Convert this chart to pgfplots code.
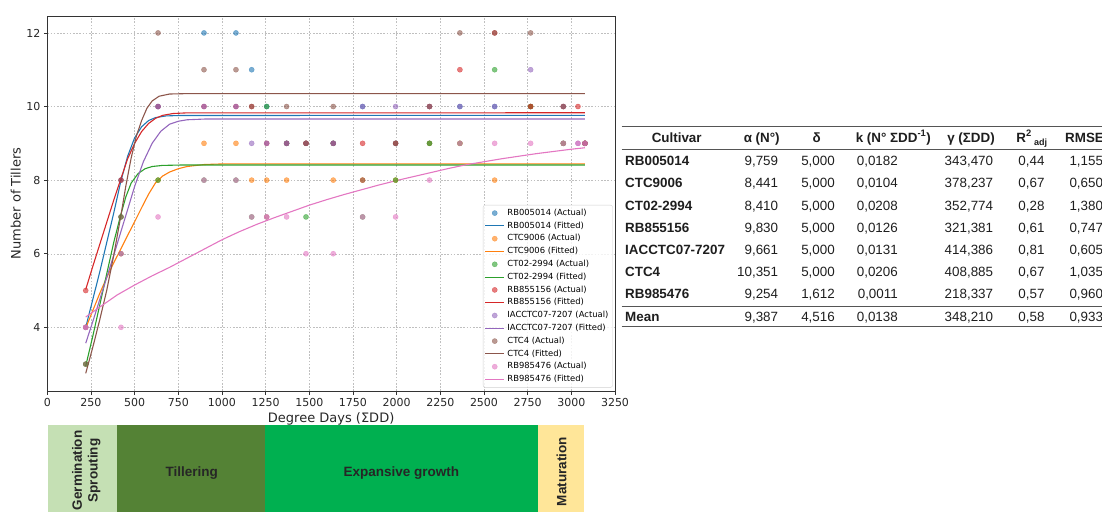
\documentclass[border=0pt]{standalone}
\usepackage{fontspec}
\usepackage{pgfplots}
\pgfplotsset{compat=1.18}
\setmainfont{DejaVu Sans}
\newfontfamily\arial{Liberation Sans}

\definecolor{tabblue}{HTML}{1F77B4}
\definecolor{taborange}{HTML}{FF7F0E}
\definecolor{tabgreen}{HTML}{2CA02C}
\definecolor{tabred}{HTML}{D62728}
\definecolor{tabpurple}{HTML}{9467BD}
\definecolor{tabbrown}{HTML}{8C564B}
\definecolor{tabpink}{HTML}{E377C2}
\definecolor{phgerm}{HTML}{C5E0B4}
\definecolor{phtill}{HTML}{548235}
\definecolor{phexp}{HTML}{00B050}
\definecolor{phmat}{HTML}{FFE699}
\definecolor{rulegray}{HTML}{555555}
\definecolor{tabtext}{HTML}{1E1E1E}

\pgfplotsset{
  actual/.style={only marks, color=#1, mark=*, mark size=2.6pt,
    mark options={fill opacity=0.6, draw opacity=0.6, line width=0.3pt}},
  fitted/.style={no marks, color=#1, line width=1.1pt, line join=round},
}

% one row of the parameter table: y, cultivar, alpha, delta, k, gamma, R2adj, RMSE
\newcommand{\tabrow}[8]{%
  \node[anchor=mid west] at (625pt,#1) {\bfseries #2};
  \node[anchor=mid east] at (778.3pt,#1) {#3};
  \node[anchor=mid east] at (835pt,#1) {#4};
  \node[anchor=mid east] at (898pt,#1) {#5};
  \node[anchor=mid east] at (993.3pt,#1) {#6};
  \node[anchor=mid east] at (1044.7pt,#1) {#7};
  \node[anchor=mid west] at (1069.3pt,#1) {#8};
}

\begin{document}
\begin{tikzpicture}
\useasboundingbox (0,0) rectangle (1102pt,512pt);
\clip (0,0) rectangle (1102pt,512pt);

\begin{axis}[
  at={(47.3pt,121pt)}, anchor=south west,
  scale only axis, width=567.7pt, height=375pt,
  xmin=0, xmax=3250, ymin=2.27, ymax=12.46,
  xtick={0,250,...,3250}, ytick={4,6,8,10,12},
  /pgf/number format/1000 sep={}, scaled ticks=false,
  /pgf/number format/assume math mode=true,
  tick label style={font=\fontsize{11}{13}\selectfont, text=black!85},
  tick align=outside, tick pos=left, major tick length=3.5pt,
  every tick/.style={black!80, line width=0.6pt},
  axis line style={black!80, line width=0.8pt},
  grid=major,
  major grid style={gray!50, dash pattern=on 1.6pt off 1.6pt, line width=0.45pt},
  xlabel={Degree Days (ΣDD)}, ylabel={Number of Tillers},
  label style={font=\fontsize{13}{15}\selectfont, text=black!85},
  xlabel style={at={(axis description cs:0.5,-0.0755)}, anchor=center},
  ylabel style={at={(axis description cs:-0.0555,0.5)}, anchor=center},
  legend image code/.code={\draw[mark repeat=2,mark phase=2,#1]
    plot coordinates {(0pt,0pt)(9.5pt,0pt)(19pt,0pt)};},
  legend cell align=left,
  legend style={at={(0.996,0.496)}, anchor=north east,
    draw=gray!35, rounded corners=2pt, fill=white, fill opacity=0.8, text opacity=1,
    font=\fontsize{8.4}{9.5}\selectfont, inner sep=1.5pt, row sep=0pt,
    nodes={inner xsep=2.65pt, inner ysep=2pt, text height=6.6pt, text depth=2.2pt}},
]

% RB005014
\addplot[actual=tabblue] coordinates {
 (220,4)(422,8)(634,10)(897,12)(1080,12)(1170,11)(1256,10)(1370,9)(1481,9)
 (1637,9)(1805,10)(1994,9)(2188,9)(2362,10)(2561,10)(2767,10)(2954,9)(3078,9)};
\addlegendentry{RB005014 (Actual)}
\addplot[fitted=tabblue] coordinates {
 (220,4.0)(260,4.75)(300,5.5)(340,6.3)(380,7.1)(420,7.95)(460,8.65)(500,9.15)
 (540,9.45)(580,9.62)(620,9.7)(680,9.745)(760,9.757)(3078,9.759)};
\addlegendentry{RB005014 (Fitted)}

% CTC9006
\addplot[actual=taborange] coordinates {
 (220,4)(422,6)(634,8)(897,9)(1080,9)(1170,8)(1256,8)(1370,8)(1481,9)
 (1637,8)(1805,8)(1994,8)(2188,9)(2362,9)(2561,8)(2767,10)(2954,9)(3078,9)};
\addlegendentry{CTC9006 (Actual)}
\addplot[fitted=taborange] coordinates {
 (220,3.98)(260,4.45)(300,4.92)(340,5.35)(380,5.75)(420,6.12)(460,6.5)(500,6.87)
 (540,7.25)(580,7.62)(620,7.93)(660,8.11)(700,8.22)(750,8.31)(800,8.37)(900,8.425)
 (1000,8.44)(3078,8.441)};
\addlegendentry{CTC9006 (Fitted)}

% CT02-2994
\addplot[actual=tabgreen] coordinates {
 (220,3)(422,7)(634,8)(897,8)(1080,8)(1170,7)(1256,10)(1370,9)(1481,7)
 (1637,9)(1805,7)(1994,8)(2188,9)(2362,9)(2561,11)(2767,10)(2954,9)(3078,9)};
\addlegendentry{CT02-2994 (Actual)}
\addplot[fitted=tabgreen] coordinates {
 (220,2.95)(260,3.75)(300,4.6)(340,5.45)(380,6.3)(420,7.05)(450,7.55)(480,7.92)
 (520,8.18)(560,8.31)(600,8.37)(660,8.4)(760,8.41)(3078,8.41)};
\addlegendentry{CT02-2994 (Fitted)}

% RB855156
\addplot[actual=tabred] coordinates {
 (220,5)(422,8)(634,10)(897,10)(1080,10)(1170,10)(1256,9)(1370,9)(1481,9)
 (1637,9)(1805,9)(1994,9)(2188,10)(2362,11)(2561,12)(2767,10)(2954,10)(3038,10)(3078,9)};
\addlegendentry{RB855156 (Actual)}
\addplot[fitted=tabred] coordinates {
 (220,5.03)(260,5.65)(300,6.25)(340,6.85)(380,7.45)(420,8.02)(460,8.58)(500,9.0)
 (540,9.32)(580,9.54)(620,9.68)(660,9.76)(720,9.81)(800,9.828)(3078,9.83)};
\addlegendentry{RB855156 (Fitted)}

% IACCTC07-7207
\addplot[actual=tabpurple] coordinates {
 (220,4)(422,6)(634,10)(897,10)(1080,10)(1170,9)(1256,9)(1370,9)(1481,9)
 (1637,9)(1805,10)(1994,10)(2188,10)(2362,10)(2561,10)(2767,11)(2954,10)(3038,9)(3078,9)};
\addlegendentry{IACCTC07-7207 (Actual)}
\addplot[fitted=tabpurple] coordinates {
 (220,3.57)(260,4.15)(300,4.75)(340,5.35)(380,5.95)(420,6.58)(460,7.2)(500,7.83)
 (550,8.5)(600,9.0)(650,9.33)(700,9.52)(750,9.6)(800,9.64)(900,9.66)(3078,9.661)};
\addlegendentry{IACCTC07-7207 (Fitted)}

% CTC4
\addplot[actual=tabbrown] coordinates {
 (220,3)(422,7)(634,12)(897,11)(1080,11)(1170,10)(1256,7)(1370,10)(1481,9)
 (1637,10)(1805,8)(1994,9)(2188,10)(2362,12)(2561,12)(2767,12)(2954,10)(3078,9)};
\addlegendentry{CTC4 (Actual)}
\addplot[fitted=tabbrown] coordinates {
 (220,2.75)(260,3.45)(300,4.2)(340,5.0)(380,5.95)(420,7.0)(450,7.85)(480,8.6)
 (510,9.2)(540,9.62)(570,9.95)(600,10.15)(640,10.28)(700,10.34)(800,10.351)(3078,10.351)};
\addlegendentry{CTC4 (Fitted)}

% RB985476
\addplot[actual=tabpink] coordinates {
 (220,4)(422,4)(634,7)(897,8)(1080,8)(1170,7)(1256,7)(1370,7)(1481,6)
 (1637,6)(1805,7)(1994,7)(2188,8)(2362,9)(2561,9)(2767,9)(2954,9)(3038,9)(3078,9)};
\addlegendentry{RB985476 (Actual)}
\addplot[fitted=tabpink] coordinates {
 (220,4.28)(300,4.55)(400,4.88)(500,5.15)(600,5.4)(700,5.63)(800,5.88)(900,6.13)
 (1000,6.38)(1100,6.6)(1200,6.8)(1300,6.98)(1400,7.15)(1500,7.32)(1600,7.47)
 (1700,7.61)(1800,7.74)(1900,7.87)(2000,7.99)(2100,8.1)(2200,8.21)(2300,8.32)
 (2400,8.42)(2500,8.5)(2600,8.58)(2700,8.65)(2800,8.72)(2900,8.78)(3000,8.84)(3078,8.88)};
\addlegendentry{RB985476 (Fitted)}
\end{axis}

% crop development phases
\fill[phgerm] (47.8pt,0pt) rectangle (117pt,87pt);
\fill[phtill] (117pt,0pt) rectangle (265pt,87pt);
\fill[phexp]  (265pt,0pt) rectangle (538pt,87pt);
\fill[phmat]  (538pt,0pt) rectangle (584.4pt,87pt);
\begin{scope}[every node/.style={font=\arial\fontsize{13.5}{15.8}\selectfont\bfseries, text=black!85}]
  \node[rotate=90, align=center] at (86.2pt,41.5pt) {Germination\\Sprouting};
  \node at (191.8pt,38.7pt) {Tillering};
  \node at (401.3pt,38.7pt) {Expansive growth};
  \node[rotate=90] at (561.5pt,40.3pt) {Maturation};
\end{scope}

% parameter table
\begin{scope}[every node/.style={inner sep=0pt, font=\arial\fontsize{13.4}{15}\selectfont, text=tabtext}]
  \draw[rulegray, line width=1.5pt] (621.7pt,385.3pt) -- (1102pt,385.3pt);
  \draw[rulegray, line width=0.8pt] (621.7pt,363pt) -- (1102pt,363pt);
  \draw[rulegray, line width=1pt] (621.7pt,205.3pt) -- (1102pt,205.3pt);
  \draw[rulegray, line width=1.5pt] (621.7pt,185.3pt) -- (1102pt,185.3pt);
  \node[anchor=mid] at (676.7pt,372.7pt) {\bfseries Cultivar};
  \node[anchor=mid] at (761.7pt,372.7pt) {\bfseries α (N°)};
  \node[anchor=mid] at (816.7pt,372.7pt) {\bfseries δ};
  \node[anchor=mid] at (893.3pt,372.7pt) {\bfseries k (N° ΣDD\textsuperscript{-1})};
  \node[anchor=mid] at (971pt,372.7pt) {\bfseries γ (ΣDD)};
  \node[anchor=mid] at (1031.7pt,372.7pt) {\bfseries R\textsuperscript{2}\,{\fontsize{9}{9}\selectfont\raisebox{-3pt}{adj}}};
  \node[anchor=mid west] at (1065pt,372.7pt) {\bfseries RMSE};
  \tabrow{349.3pt}{RB005014}{9,759}{5,000}{0,0182}{343,470}{0,44}{1,155}
  \tabrow{327pt}{CTC9006}{8,441}{5,000}{0,0104}{378,237}{0,67}{0,650}
  \tabrow{304.7pt}{CT02-2994}{8,410}{5,000}{0,0208}{352,774}{0,28}{1,380}
  \tabrow{282.7pt}{RB855156}{9,830}{5,000}{0,0126}{321,381}{0,61}{0,747}
  \tabrow{260.7pt}{IACCTC07-7207}{9,661}{5,000}{0,0131}{414,386}{0,81}{0,605}
  \tabrow{238.7pt}{CTC4}{10,351}{5,000}{0,0206}{408,885}{0,67}{1,035}
  \tabrow{216pt}{RB985476}{9,254}{1,612}{0,0011}{218,337}{0,57}{0,960}
  \tabrow{193.7pt}{Mean}{9,387}{4,516}{0,0138}{348,210}{0,58}{0,933}
\end{scope}
\end{tikzpicture}
\end{document}
